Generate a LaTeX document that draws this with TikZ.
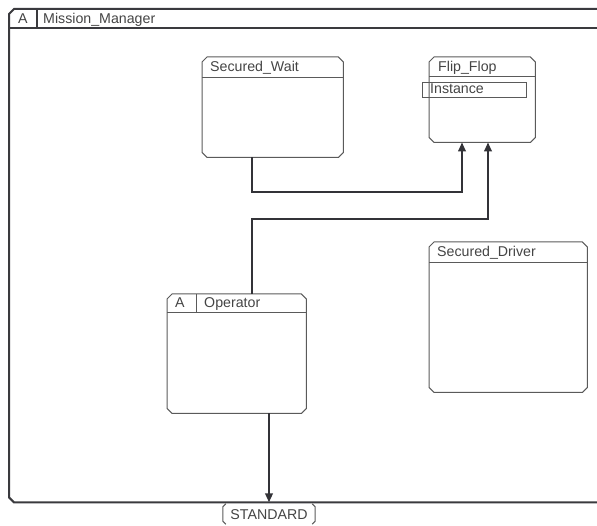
\documentclass[tikz,border=0pt]{standalone}
\usepackage{fontspec}
\setmainfont{Liberation Sans}
\usetikzlibrary{arrows.meta,calc}

\definecolor{framecol}{HTML}{3A3A3E}
\definecolor{boxcol}{HTML}{5A5A5A}
\definecolor{wirecol}{HTML}{333338}
\definecolor{txtcol}{HTML}{444444}

% outline of a named rectangular node with cut corners
\newcommand{\cutoutline}[3][]{%
  \draw[#1] ([xshift=#3]#2.north west) -- ([xshift=-#3]#2.north east)
    -- ([yshift=-#3]#2.north east) -- ([yshift=#3]#2.south east)
    -- ([xshift=-#3]#2.south east) -- ([xshift=#3]#2.south west)
    -- ([yshift=#3]#2.south west) -- ([yshift=-#3]#2.north west) -- cycle;}

\tikzset{
  area/.style={rectangle, draw=none, inner sep=0pt, anchor=north west},
  boxline/.style={draw=boxcol, line width=1pt},
  frameline/.style={draw=framecol, line width=2pt},
  wire/.style={draw=wirecol, line width=2pt},
  arrowwire/.style={wire, -{Triangle[length=9pt,width=7.5pt]}},
  lbl/.style={anchor=base west, inner sep=0pt, text=txtcol,
    font=\fontsize{14.2}{16}\selectfont},
}

\begin{document}
\begin{tikzpicture}[x=1pt,y=-1pt]
\useasboundingbox (0,0) rectangle (597,526);
\clip (0,0) rectangle (597,526);

% enclosing component
\node[area, minimum width=620pt, minimum height=493pt] (mm) at (9,9) {};
\cutoutline[frameline]{mm}{5pt}
\draw[frameline] ([yshift=-19pt]mm.north west) -- ([yshift=-19pt]mm.north east);
\draw[draw=framecol, line width=1.2pt] ([xshift=28pt]mm.north west) -- ([xshift=28pt,yshift=-19pt]mm.north west);
\node[lbl] (mmA) at (18,24) {A};
\node[lbl] (mmT) at (43,24) {Mission\_Manager};

% Secured_Wait
\node[area, minimum width=141pt, minimum height=100pt] (sw) at (202,57) {};
\cutoutline[boxline]{sw}{5pt}
\draw[boxline] ([yshift=-21pt]sw.north west) -- ([yshift=-21pt]sw.north east);
\node[lbl] (swT) at (210,72) {Secured\_Wait};

% Flip_Flop
\node[area, minimum width=106pt, minimum height=85pt] (ff) at (429,57) {};
\cutoutline[boxline]{ff}{5pt}
\draw[boxline] ([yshift=-20pt]ff.north west) -- ([yshift=-20pt]ff.north east);
\node[lbl] (ffT) at (438,72) {Flip\_Flop};
\node[area, draw=boxcol, line width=1pt, minimum width=104pt, minimum height=15pt] (inst) at (422,82) {};
\node[lbl] (instT) at (430,94) {Instance};

% Secured_Driver
\node[area, minimum width=158pt, minimum height=150pt] (sd) at (429,242) {};
\cutoutline[boxline]{sd}{5pt}
\draw[boxline] ([yshift=-21pt]sd.north west) -- ([yshift=-21pt]sd.north east);
\node[lbl] (sdT) at (437,257) {Secured\_Driver};

% Operator
\node[area, minimum width=139pt, minimum height=119pt] (op) at (167,294) {};
\cutoutline[boxline]{op}{5pt}
\draw[boxline] ([yshift=-19pt]op.north west) -- ([yshift=-19pt]op.north east);
\draw[boxline] ([xshift=29pt]op.north west) -- ([xshift=29pt,yshift=-19pt]op.north west);
\node[lbl] (opA) at (175,308) {A};
\node[lbl] (opT) at (204,308) {Operator};

% connectors
\draw[arrowwire] ([xshift=50pt]sw.south west) -- ++(0,35) -| ([xshift=33pt]ff.south west);
\draw[arrowwire] ([xshift=85pt]op.north west) -- ++(0,-75) -| ([xshift=59pt]ff.south west);
\draw[arrowwire] ([xshift=102pt]op.south west) -- ([xshift=102pt]op.south west |- mm.south);

% port label
\node[area, anchor=center, minimum width=92pt, minimum height=20pt] (std) at (269,514) {};
\node[lbl, anchor=center] (stdT) at (269,515) {STANDARD};
\draw[boxline] ([xshift=3pt]std.north west) -- ([yshift=-3pt]std.north west)
  -- ([yshift=3pt]std.south west) -- ([xshift=3pt]std.south west);
\draw[boxline] ([xshift=-3pt]std.north east) -- ([yshift=-3pt]std.north east)
  -- ([yshift=3pt]std.south east) -- ([xshift=-3pt]std.south east);
\end{tikzpicture}
\end{document}
